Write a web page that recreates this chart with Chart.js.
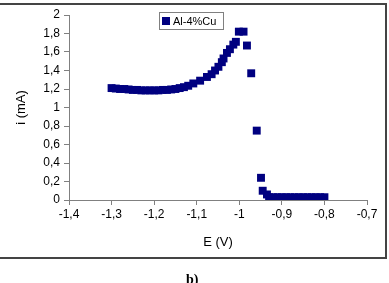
<!DOCTYPE html>
<html>
<head>
<meta charset="utf-8">
<script src="https://cdn.jsdelivr.net/npm/chart.js@4/dist/chart.umd.min.js"></script>
<style>
html,body{margin:0;padding:0;background:#fff;}
#wrap{position:relative;width:389px;height:283px;overflow:hidden;}
canvas{position:absolute;left:0;top:0;}
#cap{position:absolute;left:186px;top:272px;font:bold 14px "Liberation Serif",serif;color:#000;}
</style>
</head>
<body>
<div id="wrap">
<canvas id="c" width="389" height="283"></canvas>
<div id="cap">b)</div>
</div>
<script>
const seriesLabel = "Al-4%Cu";
const potentialE = [
  -1.30,-1.29,-1.28,-1.27,-1.26,-1.25,-1.24,-1.23,-1.22,-1.21,-1.20,-1.19,-1.18,-1.17,-1.16,-1.15,-1.14,-1.13,
  -1.12,-1.108,-1.092,-1.076,-1.065,-1.057,-1.049,-1.041,-1.037,-1.029,-1.022,-1.014,-1.008,-1.001,-0.990,
  -0.982,-0.972,-0.959,-0.949,-0.945,-0.935,
  -0.93,-0.92,-0.91,-0.90,-0.89,-0.88,-0.87,-0.86,-0.85,-0.84,-0.83,-0.82,-0.81,-0.80
];
const currentI = [
  1.21,1.205,1.20,1.20,1.195,1.19,1.19,1.185,1.185,1.185,1.185,1.185,1.19,1.19,1.195,1.20,1.21,1.22,
  1.235,1.26,1.29,1.33,1.36,1.40,1.44,1.49,1.53,1.59,1.63,1.68,1.71,1.82,1.82,
  1.67,1.37,0.75,0.24,0.10,0.06,
  0.03,0.03,0.03,0.03,0.03,0.03,0.03,0.03,0.03,0.03,0.03,0.03,0.03,0.03
];
const xTickLabels = ["-1,4","-1,3","-1,2","-1,1","-1","-0,9","-0,8","-0,7"];
const yTickLabels = ["0","0,2","0,4","0,6","0,8","1","1,2","1,4","1,6","1,8","2"];

const points = potentialE.map((e, k) => ({x: e, y: currentI[k]}));
const FONT = "'Liberation Sans', Arial, sans-serif";
const navy = "#000080";

const framePlugin = {
  id: 'frame',
  afterDraw(chart) {
    const ctx = chart.ctx;
    ctx.save();
    ctx.strokeStyle = '#444';
    ctx.lineWidth = 2;
    ctx.strokeRect(-5, 4, 391, 254);
    // legend box
    const bx = 159, by = 12, bw = 64, bh = 17;
    ctx.fillStyle = '#fff';
    ctx.fillRect(bx, by, bw, bh);
    ctx.lineWidth = 1;
    ctx.strokeStyle = '#808080';
    ctx.strokeRect(bx + 0.5, by + 0.5, bw, bh);
    ctx.fillStyle = navy;
    ctx.fillRect(bx + 3, by + 5, 8, 8);
    ctx.fillStyle = '#000';
    ctx.font = "11px " + FONT;
    ctx.textBaseline = 'middle';
    ctx.textAlign = 'left';
    ctx.fillText(chart.data.datasets[0].label, bx + 14, by + 9.5);
    ctx.restore();
  }
};

new Chart(document.getElementById('c'), {
  type: 'scatter',
  data: {
    datasets: [{
      label: seriesLabel,
      data: points,
      pointStyle: 'rect',
      pointRadius: 5.6,
      pointHoverRadius: 5.6,
      backgroundColor: navy,
      borderColor: navy,
      borderWidth: 0,
      showLine: false
    }]
  },
  options: {
    responsive: false,
    animation: false,
    devicePixelRatio: 1,
    layout: {padding: {left: 0, right: 22, top: 15, bottom: 25}},
    plugins: {legend: {display: false}, tooltip: {enabled: false}},
    scales: {
      x: {
        type: 'linear', min: -1.4, max: -0.7,
        afterFit(s) { s.height = 58; },
        ticks: {stepSize: 0.1, color: '#000', font: {family: FONT, size: 12}, padding: 2,
          callback: (v, idx) => xTickLabels[idx]},
        grid: {drawOnChartArea: false, drawTicks: true, tickLength: 5, color: '#808080'},
        border: {display: true, color: '#808080'},
        title: {display: true, text: 'E (V)', color: '#000', font: {family: FONT, size: 13}, padding: {top: 6, bottom: 8}}
      },
      y: {
        type: 'linear', min: 0, max: 2,
        afterFit(s) { s.width = 69; },
        ticks: {stepSize: 0.2, color: '#000', font: {family: FONT, size: 12}, padding: 4,
          callback: (v, idx) => yTickLabels[idx]},
        grid: {drawOnChartArea: false, drawTicks: true, tickLength: 5, color: '#808080'},
        border: {display: true, color: '#808080'},
        title: {display: true, text: 'i (mA)', color: '#000', font: {family: FONT, size: 13}, padding: {top: 14, bottom: 0}}
      }
    }
  },
  plugins: [framePlugin]
});
</script>
</body>
</html>
